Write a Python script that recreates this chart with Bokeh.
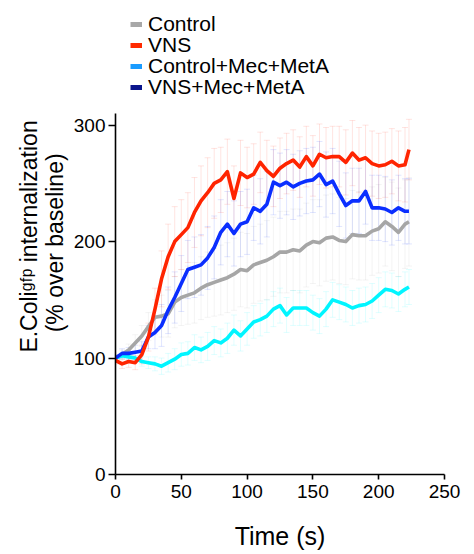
import numpy as np
from bokeh.plotting import figure
from bokeh.layouts import column
from bokeh.models import (Range1d, Whisker, ColumnDataSource, Legend, LegendItem,
                          TeeHead, FixedTicker)
from bokeh.embed import file_html
from bokeh.resources import INLINE

# ---------------- data ----------------
time_s = [0, 5, 10, 15, 20, 25, 30, 35, 40, 45, 50, 55, 60, 65, 70, 75, 80, 85, 90, 95,
          100, 105, 110, 115, 120, 125, 130, 135, 140, 145, 150, 155, 160, 165, 170, 175,
          180, 185, 190, 195, 200, 205, 210, 215, 220, 223]

control = [100, 103, 107, 113, 119, 127, 135, 136, 138, 148, 152, 154, 156, 160, 163, 165,
           167, 169, 172, 176, 175, 180, 182, 184, 187, 191, 191, 193, 192, 197, 200, 199,
           203, 204, 201, 200, 206, 205, 205, 209, 211, 217, 213, 208, 215, 217]
control_sem = [3, 4, 5, 7, 9, 12, 15, 18, 20, 22, 24, 25, 26, 27, 28, 29, 30, 30, 31, 32,
               32, 33, 33, 34, 34, 35, 35, 35, 36, 36, 36, 37, 37, 37, 37, 37, 38, 38, 38,
               38, 38, 38, 38, 38, 38, 38]

vns = [98, 95, 97, 96, 103, 118, 142, 168, 187, 200, 206, 212, 225, 235, 242, 250, 253,
       260, 237, 259, 255, 258, 268, 261, 256, 263, 267, 270, 264, 273, 265, 275, 272, 273,
       273, 268, 276, 270, 272, 267, 265, 266, 269, 265, 266, 279]
vns_sem = [3, 4, 5, 6, 8, 12, 18, 24, 28, 30, 30, 30, 30, 30, 30, 30, 28, 28, 28, 28,
           26, 26, 26, 26, 26, 26, 26, 26, 26, 26, 26, 26, 26, 26, 26, 28, 28, 28, 28, 28,
           28, 28, 28, 30, 32, 26]

control_mec = [100, 102, 101, 100, 97, 96, 95, 93, 96, 99, 103, 104, 109, 107, 110, 115,
               113, 117, 124, 119, 125, 131, 133, 136, 142, 145, 137, 143, 143, 143, 139,
               136, 142, 150, 148, 146, 143, 145, 146, 149, 154, 159, 158, 155, 159, 161]
control_mec_sem = [2, 3, 3, 4, 4, 5, 6, 7, 8, 9, 10, 10, 11, 11, 12, 12, 12, 13, 13, 13,
                   14, 14, 14, 14, 15, 15, 15, 15, 15, 15, 15, 15, 15, 15, 15, 15, 15, 15,
                   15, 15, 15, 15, 15, 15, 15, 15]

vns_mec = [100, 104, 104, 105, 106, 118, 122, 128, 141, 152, 164, 176, 178, 180, 186, 195,
           208, 215, 207, 215, 217, 229, 226, 232, 251, 248, 251, 247, 250, 252, 253, 258,
           249, 252, 241, 231, 235, 235, 243, 229, 229, 228, 225, 229, 226, 226]
vns_mec_sem = [3, 4, 5, 6, 8, 10, 14, 18, 20, 22, 24, 25, 26, 26, 27, 27, 28, 28, 28, 28,
               28, 28, 28, 28, 28, 28, 28, 28, 28, 28, 28, 28, 28, 28, 28, 28, 28, 28, 28,
               28, 28, 28, 28, 28, 28, 28]

series_names = ["Control", "VNS", "Control+Mec+MetA", "VNS+Mec+MetA"]
x_ticks = [0, 50, 100, 150, 200, 250]
y_ticks = [0, 100, 200, 300]
x_title = "Time (s)"
y_title_1 = "E.Coli\u1d4d\u1da0\u1d56 internalization"
y_title_2 = "(% over baseline)"

FONT = "Liberation Sans"
NB = "\u00a0"

# ---------------- legend strip ----------------
head = figure(width=474, height=113, output_backend="svg", toolbar_location=None,
              x_range=Range1d(0, 100), y_range=Range1d(0, 100),
              x_axis_type=None, y_axis_type=None, min_border=0)
head.outline_line_color = None
head.xgrid.visible = False
head.ygrid.visible = False

legend_colors = ["#a8a8a8", "#ff2a00", "#1a9cff", "#0a158c"]
legend_offsets = [77.5, 56.5, 35.5, 14.5]   # one compact legend row per entry
for name, col, off in zip(series_names, legend_colors, legend_offsets):
    # swatch-only renderer, placed outside the visible range
    r = head.line([-20, -10], [-20, -20], line_color=col, line_width=5)
    lg = Legend(items=[LegendItem(label=name, renderers=[r])], location=(15, off),
                orientation="vertical", background_fill_alpha=0, border_line_color=None,
                padding=0, margin=0, spacing=0, glyph_width=12, glyph_height=16,
                label_standoff=6, label_text_font=FONT, label_text_font_size="21px",
                label_text_color="black", label_height=21)
    head.add_layout(lg, "center")

# ---------------- main chart ----------------
p = figure(width=474, height=441, output_backend="svg", toolbar_location=None,
           x_range=Range1d(0, 250), y_range=Range1d(0, 310),
           min_border_left=115, min_border_right=30, min_border_top=0, min_border_bottom=80)
p.outline_line_color = None
p.xgrid.visible = False
p.ygrid.visible = False

for ax, ticks in ((p.xaxis[0], x_ticks), (p.yaxis[0], y_ticks)):
    ax.ticker = FixedTicker(ticks=ticks)
    ax.minor_tick_line_color = None
    ax.axis_line_width = 1.6
    ax.axis_line_color = "black"
    ax.major_tick_line_width = 1.6
    ax.major_tick_line_color = "black"
    ax.major_tick_in = 0
    ax.major_label_text_font = FONT
    ax.major_label_text_font_size = "19px"
    ax.major_label_text_color = "black"
    ax.axis_label_text_font = FONT
    ax.axis_label_text_font_style = "normal"
    ax.axis_label_text_color = "black"
p.xaxis.major_tick_out = 5
p.yaxis.major_tick_out = 7
p.xaxis.major_label_standoff = 5
p.yaxis.major_label_standoff = 3

p.xaxis.axis_label = x_title
p.xaxis.axis_label_text_font_size = "25px"
p.xaxis.axis_label_standoff = 21

p.yaxis.axis_label = NB * 18 + y_title_1 + "\n" + NB * 16 + y_title_2
p.yaxis.axis_label_text_font_size = "23px"
p.yaxis.axis_label_text_line_height = 1.0
p.yaxis.axis_label_standoff = 3

t = np.array(time_s, dtype=float)

specs = [
    (control, control_sem, "#a6a6a6"),
    (vns, vns_sem, "#ff2400"),
    (control_mec, control_mec_sem, "#00f5ff"),
    (vns_mec, vns_mec_sem, "#0a2eff"),
]

for vals, sem, col in specs:
    v = np.array(vals, dtype=float)
    s = np.array(sem, dtype=float)
    src = ColumnDataSource(dict(t=t, lo=v - s, hi=v + s))
    w = Whisker(source=src, base="t", lower="lo", upper="hi", dimension="height",
                line_color=col, line_alpha=0.12, line_width=1, level="underlay",
                upper_head=TeeHead(size=6, line_color=col, line_alpha=0.12, line_width=1),
                lower_head=TeeHead(size=6, line_color=col, line_alpha=0.12, line_width=1))
    p.add_layout(w)

for idx in (0, 2, 3, 1):
    vals, sem, col = specs[idx]
    p.line(t, vals, line_color=col, line_width=3.6, line_join="round")

layout = column(head, p, spacing=0)
open("out.html", "w").write(file_html(layout, INLINE))
